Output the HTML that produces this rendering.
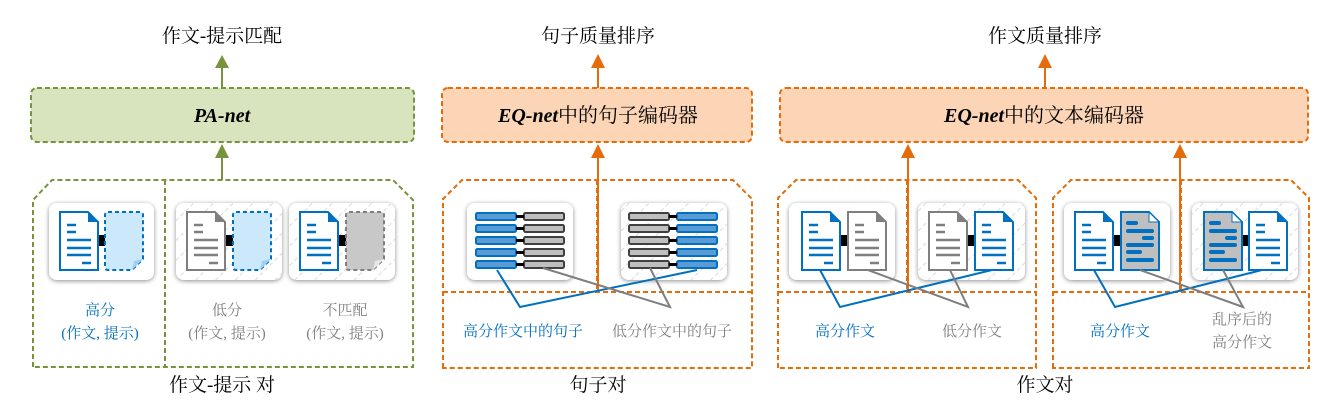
<!DOCTYPE html>
<html><head><meta charset="utf-8"><style>
html,body{margin:0;padding:0;background:#fff;}
svg{display:block;}
text{font-family:"Liberation Serif","Noto Serif CJK SC","Noto Sans CJK SC",serif;}
</style></head><body>
<svg width="1327" height="415" viewBox="0 0 1327 415" xmlns="http://www.w3.org/2000/svg">
<defs>
<pattern id="hatch" width="14" height="14" patternUnits="userSpaceOnUse" patternTransform="rotate(45)">
<rect width="14" height="14" fill="#fff"/><line x1="0" y1="0" x2="0" y2="14" stroke="#dcd6e6" stroke-width="2" stroke-dasharray="4 3"/>
</pattern>
<filter id="sh" x="-20%" y="-20%" width="140%" height="140%"><feGaussianBlur in="SourceAlpha" stdDeviation="2.5"/><feOffset dx="0" dy="1"/><feComponentTransfer><feFuncA type="linear" slope="0.45"/></feComponentTransfer><feMerge><feMergeNode/><feMergeNode in="SourceGraphic"/></feMerge></filter>
<symbol id="docB" viewBox="0 0 40 60" width="40" height="60" overflow="visible">
<path d="M1,1 H29 L39,11 V59 H1 Z" fill="#fff" stroke="#0070c0" stroke-width="2"/><path d="M29,1 V11 H39 Z" fill="#0070c0"/>
<g stroke="#0070c0" stroke-width="2.5"><line x1="8" y1="14" x2="17" y2="14"/><line x1="8" y1="21" x2="17" y2="21"/><line x1="8" y1="29" x2="32" y2="29"/><line x1="8" y1="37" x2="32" y2="37"/><line x1="8" y1="44" x2="32" y2="44"/><line x1="23" y1="52" x2="32" y2="52"/></g>
</symbol>
<symbol id="docG" viewBox="0 0 40 60" width="40" height="60" overflow="visible">
<path d="M1,1 H29 L39,11 V59 H1 Z" fill="#fff" stroke="#7f7f7f" stroke-width="2"/><path d="M29,1 V11 H39 Z" fill="#7f7f7f"/>
<g stroke="#7f7f7f" stroke-width="2.5"><line x1="8" y1="14" x2="17" y2="14"/><line x1="8" y1="21" x2="17" y2="21"/><line x1="8" y1="29" x2="32" y2="29"/><line x1="8" y1="37" x2="32" y2="37"/><line x1="8" y1="44" x2="32" y2="44"/><line x1="23" y1="52" x2="32" y2="52"/></g>
</symbol>
<symbol id="docS" viewBox="0 0 40 60" width="40" height="60" overflow="visible">
<path d="M1,1 H29 L39,11 V59 H1 Z" fill="#bfbfbf" stroke="#0070c0" stroke-width="2"/><path d="M29,1 L39,11 H29 Z" fill="#fff" stroke="#0070c0" stroke-width="1"/>
<g stroke="#0070c0" stroke-width="4" stroke-linecap="round"><line x1="8" y1="12" x2="16" y2="12"/><line x1="8" y1="20" x2="32" y2="20"/><line x1="24" y1="27" x2="32" y2="27"/><line x1="8" y1="34" x2="32" y2="34"/><line x1="8" y1="41" x2="20" y2="41"/><line x1="8" y1="49" x2="32" y2="49"/></g>
</symbol>
<symbol id="prB" viewBox="0 0 40 60" width="40" height="60" overflow="visible">
<path d="M4,1 H36 Q39,1 39,4 V48 L28,59 H4 Q1,59 1,56 V4 Q1,1 4,1 Z" fill="#cce8fb" stroke="#0070c0" stroke-width="2" stroke-dasharray="4 3"/><path d="M28,59 L30,50 L39,48 Z" fill="#9dd0f2"/>
</symbol>
<symbol id="prG" viewBox="0 0 40 60" width="40" height="60" overflow="visible">
<path d="M4,1 H36 Q39,1 39,4 V48 L28,59 H4 Q1,59 1,56 V4 Q1,1 4,1 Z" fill="#c8c8c8" stroke="#7f7f7f" stroke-width="2" stroke-dasharray="4 3"/><path d="M28,59 L30,50 L39,48 Z" fill="#e6e6e6"/>
</symbol>
<symbol id="barB" viewBox="0 0 42 9" width="42" height="9"><rect x="1" y="1" width="40" height="7" rx="1.5" fill="#5b9bd5" stroke="#0070c0" stroke-width="2"/></symbol>
<symbol id="barG" viewBox="0 0 42 9" width="42" height="9"><rect x="1" y="1" width="40" height="7" rx="1.5" fill="#bfbfbf" stroke="#404040" stroke-width="2"/></symbol>
</defs>

<g font-size="19" text-anchor="middle" fill="#000">
<text x="222" y="42">作文-提示匹配</text>
<text x="598" y="42">句子质量排序</text>
<text x="1045" y="42">作文质量排序</text>
<text x="222" y="391">作文-提示 对</text>
<text x="598" y="391">句子对</text>
<text x="1045" y="391">作文对</text>
</g>

<g stroke-width="2">
<line x1="222" y1="88" x2="222" y2="66" stroke="#77933c"/><path d="M215,68 L222,55 L229,68 Z" fill="#77933c"/>
<line x1="222" y1="180" x2="222" y2="156" stroke="#77933c"/><path d="M215,158 L222,144 L229,158 Z" fill="#77933c"/>
<line x1="598" y1="88" x2="598" y2="66" stroke="#e46c0a"/><path d="M591,68 L598,54 L605,68 Z" fill="#e46c0a"/>
<line x1="598" y1="292" x2="598" y2="156" stroke="#e46c0a"/><path d="M591,158 L598,144 L605,158 Z" fill="#e46c0a"/>
<line x1="1045" y1="88" x2="1045" y2="66" stroke="#e46c0a"/><path d="M1038,68 L1045,54 L1052,68 Z" fill="#e46c0a"/>
<line x1="908" y1="292" x2="908" y2="156" stroke="#e46c0a"/><path d="M901,158 L908,144 L915,158 Z" fill="#e46c0a"/>
<line x1="1180" y1="292" x2="1180" y2="156" stroke="#e46c0a"/><path d="M1173,158 L1180,144 L1187,158 Z" fill="#e46c0a"/>
</g>

<rect x="31" y="88" width="383" height="54" rx="6" fill="#d7e4bd" stroke="#77933c" stroke-width="2" stroke-dasharray="5 3"/>
<text x="222" y="122" text-anchor="middle" font-size="20" font-style="italic" font-weight="bold">PA-net</text>
<rect x="442" y="88" width="310" height="54" rx="6" fill="#fbd5b5" stroke="#e46c0a" stroke-width="2" stroke-dasharray="5 3"/>
<text x="598" y="122" text-anchor="middle" font-size="20"><tspan font-style="italic" font-weight="bold">EQ-net</tspan>中的句子编码器</text>
<rect x="780" y="88" width="528" height="54" rx="6" fill="#fbd5b5" stroke="#e46c0a" stroke-width="2" stroke-dasharray="5 3"/>
<text x="1044" y="122" text-anchor="middle" font-size="20"><tspan font-style="italic" font-weight="bold">EQ-net</tspan>中的文本编码器</text>

<g fill="none" stroke-width="2" stroke-dasharray="5 3">
<path d="M33,367 V200 L52,180 H393 L413,200 V367 Z" stroke="#77933c"/>
<line x1="165" y1="180" x2="165" y2="367" stroke="#77933c"/>
<path d="M443,368 V199 L462,180 H733 L752,199 V368 Z" stroke="#e46c0a"/>
<line x1="443" y1="292" x2="752" y2="292" stroke="#e46c0a"/>
<line x1="597" y1="180" x2="597" y2="292" stroke="#e46c0a"/>
<path d="M778,368 V198 L796,180 H1018 L1036,198 V368 Z" stroke="#e46c0a"/>
<line x1="778" y1="292" x2="1036" y2="292" stroke="#e46c0a"/>
<line x1="907" y1="180" x2="907" y2="292" stroke="#e46c0a"/>
<path d="M1053,368 V198 L1071,180 H1291 L1309,198 V368 Z" stroke="#e46c0a"/>
<line x1="1053" y1="292" x2="1309" y2="292" stroke="#e46c0a"/>
<line x1="1181" y1="180" x2="1181" y2="292" stroke="#e46c0a"/>
</g>

<g filter="url(#sh)">
<rect x="49" y="203" width="105" height="77" rx="8" fill="#fff"/>
<rect x="176" y="203" width="106" height="77" rx="8" fill="url(#hatch)"/>
<rect x="289" y="203" width="106" height="77" rx="8" fill="url(#hatch)"/>
<rect x="467" y="203" width="106" height="77" rx="8" fill="#fff"/>
<rect x="621" y="203" width="106" height="77" rx="8" fill="url(#hatch)"/>
<rect x="789" y="203" width="106" height="77" rx="8" fill="#fff"/>
<rect x="918" y="203" width="107" height="77" rx="8" fill="url(#hatch)"/>
<rect x="1064" y="203" width="106" height="77" rx="8" fill="#fff"/>
<rect x="1192" y="203" width="106" height="77" rx="8" fill="url(#hatch)"/>
</g>

<rect x="97" y="235" width="10" height="11" fill="#000"/>
<use href="#docB" x="59" y="211"/><use href="#prB" x="104" y="211"/>
<rect x="224" y="235" width="10" height="11" fill="#000"/>
<use href="#docG" x="186" y="211"/><use href="#prB" x="232" y="211"/>
<rect x="337" y="235" width="10" height="11" fill="#000"/>
<use href="#docB" x="299" y="211"/><use href="#prG" x="345" y="211"/>

<g>
<use href="#barB" x="475" y="212"/><use href="#barB" x="475" y="224"/><use href="#barB" x="475" y="236"/><use href="#barB" x="475" y="248"/><use href="#barB" x="475" y="260"/>
<use href="#barG" x="523" y="212"/><use href="#barG" x="523" y="224"/><use href="#barG" x="523" y="236"/><use href="#barG" x="523" y="248"/><use href="#barG" x="523" y="260"/>
<use href="#barG" x="628" y="212"/><use href="#barG" x="628" y="224"/><use href="#barG" x="628" y="236"/><use href="#barG" x="628" y="248"/><use href="#barG" x="628" y="260"/>
<use href="#barB" x="676" y="212"/><use href="#barB" x="676" y="224"/><use href="#barB" x="676" y="236"/><use href="#barB" x="676" y="248"/><use href="#barB" x="676" y="260"/>
<g fill="#000"><rect x="516" y="215" width="8" height="3"/><rect x="516" y="227" width="8" height="3"/><rect x="516" y="239" width="8" height="3"/><rect x="516" y="251" width="8" height="3"/><rect x="516" y="263" width="8" height="3"/>
<rect x="669" y="215" width="8" height="3"/><rect x="669" y="227" width="8" height="3"/><rect x="669" y="239" width="8" height="3"/><rect x="669" y="251" width="8" height="3"/><rect x="669" y="263" width="8" height="3"/></g>
</g>

<rect x="838" y="235" width="11" height="11" fill="#000"/>
<use href="#docB" x="801" y="211"/><use href="#docG" x="847" y="211"/>
<rect x="966" y="235" width="10" height="11" fill="#000"/>
<use href="#docG" x="928" y="211"/><use href="#docB" x="974" y="211"/>
<rect x="1111" y="235" width="11" height="11" fill="#000"/>
<use href="#docB" x="1074" y="211"/><use href="#docS" x="1120" y="211"/>
<rect x="1240" y="235" width="10" height="11" fill="#000"/>
<use href="#docS" x="1203" y="211"/><use href="#docB" x="1248" y="211"/>

<g fill="none" stroke-width="2">
<polyline points="497,270 520,307 697,270" stroke="#0070c0"/>
<polyline points="543,268 670,307 650,268" stroke="#7f7f7f"/>
<polyline points="820,270 840,307 992,270" stroke="#0070c0"/>
<polyline points="868,270 968,307 950,270" stroke="#7f7f7f"/>
<polyline points="1094,270 1115,307 1262,270" stroke="#0070c0"/>
<polyline points="1140,270 1243,307 1223,270" stroke="#7f7f7f"/>
</g>

<g font-size="15" text-anchor="middle" font-family="'Liberation Sans','Noto Sans CJK SC',sans-serif">
<text x="100" y="315" fill="#0070c0">高分</text>
<text x="100" y="338" fill="#0070c0">(作文, 提示)</text>
<text x="227" y="315" fill="#808080">低分</text>
<text x="227" y="338" fill="#808080">(作文, 提示)</text>
<text x="345" y="315" fill="#808080">不匹配</text>
<text x="345" y="338" fill="#808080">(作文, 提示)</text>
<text x="523" y="336" fill="#0070c0">高分作文中的句子</text>
<text x="672" y="336" fill="#808080">低分作文中的句子</text>
<text x="845" y="336" fill="#0070c0">高分作文</text>
<text x="972" y="336" fill="#808080">低分作文</text>
<text x="1120" y="336" fill="#0070c0">高分作文</text>
<text x="1242" y="324" fill="#808080">乱序后的</text>
<text x="1242" y="347" fill="#808080">高分作文</text>
</g>
</svg>
</body></html>
